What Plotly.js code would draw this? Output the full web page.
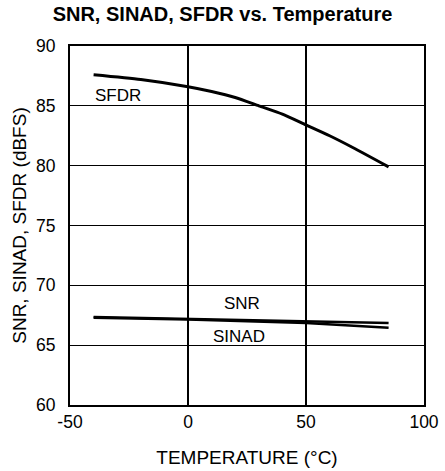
<!DOCTYPE html>
<html>
<head>
<meta charset="utf-8">
<script src="https://cdn.plot.ly/plotly-3.0.1.min.js"></script>
<style>html,body{margin:0;padding:0;background:#fff;}#chart{width:445px;height:471px;}</style>
</head>
<body>
<div id="chart"></div>
<script>
const sfdrTemp = [-40, -20, 0, 10, 20, 30, 40, 50, 60, 70, 85];
const sfdrVals = [87.6, 87.2, 86.6, 86.2, 85.7, 85.0, 84.3, 83.4, 82.5, 81.5, 79.9];
const snrTemp = [-40, 0, 50, 85];
const snrVals = [67.35, 67.2, 67.0, 66.85];
const sinadTemp = [-40, 0, 50, 85];
const sinadVals = [67.3, 67.15, 66.85, 66.45];
const xTicks = [-50, 0, 50, 100];
const yTicks = [60, 65, 70, 75, 80, 85, 90];
const seriesLabels = [
  {text: 'SFDR', x: -29.5, y: 85.9},
  {text: 'SNR', x: 23, y: 68.5},
  {text: 'SINAD', x: 21.5, y: 65.7}
];

const font = 'Liberation Sans, Arial, Helvetica, sans-serif';
const lineStyle = {color: '#000', width: 3, shape: 'spline', smoothing: 0.6};

const data = [
  {x: sfdrTemp, y: sfdrVals, mode: 'lines', line: lineStyle, name: 'SFDR'},
  {x: snrTemp, y: snrVals, mode: 'lines', line: {color: '#000', width: 2.5}, name: 'SNR'},
  {x: sinadTemp, y: sinadVals, mode: 'lines', line: {color: '#000', width: 2.5}, name: 'SINAD'}
];

const layout = {
  width: 445, height: 471,
  margin: {l: 69.5, r: 21, t: 46, b: 65.5},
  paper_bgcolor: '#fff', plot_bgcolor: '#fff',
  showlegend: false,
  font: {family: font, color: '#000', size: 17},
  title: {text: '<b>SNR, SINAD, SFDR vs. Temperature</b>', xref: 'container', x: 0.5, xanchor: 'center', y: 0.97, yanchor: 'middle', font: {family: font, size: 20, color: '#000'}},
  xaxis: {
    range: [-50, 100], tickvals: xTicks, ticktext: xTicks.map(String),
    showgrid: true, gridcolor: '#000', gridwidth: 1.3,
    showline: true, linecolor: '#000', linewidth: 2, mirror: true,
    zeroline: false, ticks: '', ticklen: 0, ticklabelstandoff: 0,
    tickfont: {family: font, size: 17.5, color: '#000'},
    title: {text: 'TEMPERATURE (°C)', font: {family: font, size: 19, color: '#000'}, standoff: 20}
  },
  yaxis: {
    range: [60, 90], tickvals: yTicks, ticktext: yTicks.map(String),
    showgrid: true, gridcolor: '#000', gridwidth: 1.3,
    showline: true, linecolor: '#000', linewidth: 2, mirror: true,
    zeroline: false, ticks: '', ticklen: 0, ticklabelstandoff: 9,
    tickfont: {family: font, size: 17.5, color: '#000'},
    title: {text: 'SNR, SINAD, SFDR (dBFS)', font: {family: font, size: 19, color: '#000'}, standoff: 4}
  },
  annotations: seriesLabels.map(l => ({
    text: l.text, x: l.x, y: l.y, xref: 'x', yref: 'y', showarrow: false,
    font: {family: font, size: 17, color: '#000'}, xanchor: 'center', yanchor: 'middle'
  }))
};

Plotly.newPlot('chart', data, layout, {displayModeBar: false, staticPlot: true});
</script>
</body>
</html>
